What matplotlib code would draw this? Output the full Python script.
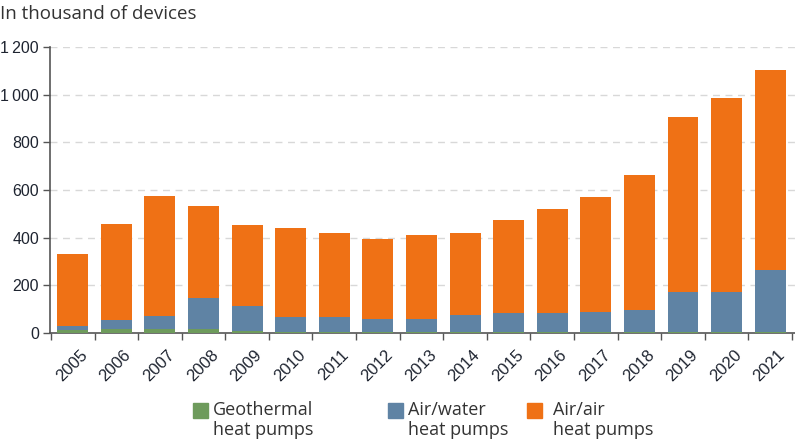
import matplotlib.pyplot as plt
from matplotlib.patches import Rectangle
from matplotlib.transforms import ScaledTranslation
import numpy as np

years = [str(y) for y in range(2005, 2022)]
geothermal = [12, 17, 17, 17, 11, 5, 5, 4, 3, 3, 3, 3, 3, 3, 3, 3, 3]
air_water_top = [28, 56, 71, 147, 115, 66, 66, 60, 60, 77, 83, 83, 88, 99, 173, 173, 264]
totals = [330, 457, 575, 533, 453, 440, 420, 395, 410, 420, 474, 522, 570, 665, 905, 987, 1103]

air_water = [a - g for a, g in zip(air_water_top, geothermal)]
air_air = [t - a for t, a in zip(totals, air_water_top)]

green = '#6e9b5c'
blue = '#5f83a4'
orange = '#ef7115'
text_col = '#333333'

plt.rcParams['font.family'] = ['Open Sans', 'DejaVu Sans']

fig = plt.figure(figsize=(7.95, 4.43), dpi=100)
ax = fig.add_axes([0.063, 0.248, 0.937, 0.646])

x = np.arange(len(years))
w = 0.71
ax.bar(x, geothermal, w, color=green, zorder=3)
ax.bar(x, air_water, w, bottom=geothermal, color=blue, zorder=3)
ax.bar(x, air_air, w, bottom=air_water_top, color=orange, zorder=3)

ax.set_ylim(0, 1200)
ax.set_xlim(-0.52, len(years) - 0.43)
ax.set_yticks(range(0, 1201, 200))
ax.set_yticklabels(['0', '200', '400', '600', '800', '1\u2009000', '1\u2009200'],
                   family=['Liberation Sans', 'DejaVu Sans'], fontsize=11.5, color='#1e2430')
ax.yaxis.grid(True, linestyle=(0, (5, 4)), color='#d8d8d8', linewidth=1, zorder=0)

ax.set_xticks(x)
ax.set_xticklabels(years, rotation=45, ha='right', rotation_mode='anchor',
                   family=['Liberation Sans', 'DejaVu Sans'], fontsize=12, color='#1e2430')
ax.tick_params(axis='x', which='major', length=0, pad=10)
shift = ScaledTranslation(7 / 100, 0, fig.dpi_scale_trans)
for lab in ax.get_xticklabels():
    lab.set_transform(lab.get_transform() + shift)
ax.set_xticks(np.arange(-0.5, len(years) - 0.4, 1), minor=True)
ax.tick_params(axis='x', which='minor', length=5, width=1, color='#555555')
ax.tick_params(axis='y', length=5, width=1, color='#555555', pad=3)

for s in ['top', 'right']:
    ax.spines[s].set_visible(False)
for s in ['left', 'bottom']:
    ax.spines[s].set_color('#555555')
    ax.spines[s].set_linewidth(1.2)

fig.text(0.0, 0.968, 'In thousand of devices', fontsize=13.5, color=text_col, va='center')

# legend
legend_items = [('Geothermal\nheat pumps', green, 193, 213),
                ('Air/water\nheat pumps', blue, 388, 408),
                ('Air/air\nheat pumps', orange, 527, 553)]
for label, col, px, tx in legend_items:
    fig.patches.append(Rectangle((px / 795, 1 - 418 / 443), 15 / 795, 15 / 443,
                                 transform=fig.transFigure, color=col))
    fig.text(tx / 795, 1 - 420 / 443, label, fontsize=13, color=text_col,
             va='center', linespacing=1.15)

fig.savefig('out.png', dpi=100)
